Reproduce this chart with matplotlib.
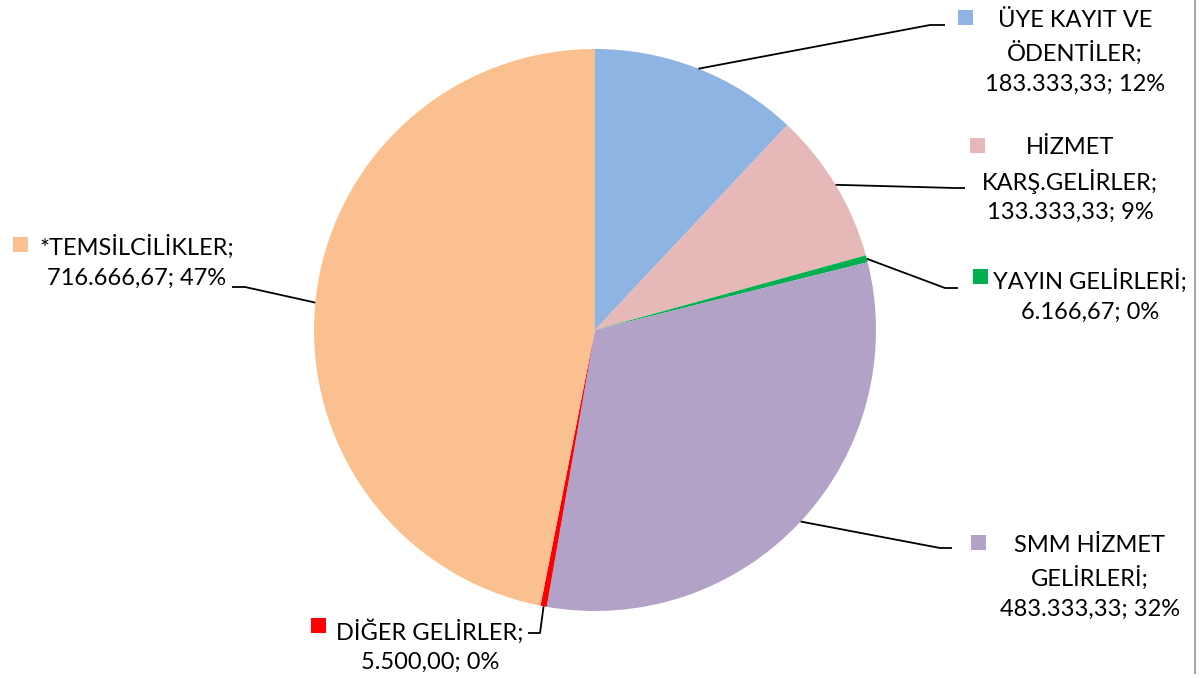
import numpy as np
import matplotlib
matplotlib.use('Agg')
import matplotlib.pyplot as plt

plt.rcParams['font.family'] = ['Lato', 'DejaVu Sans']

# Data
names = ['ÜYE KAYIT VE\nÖDENTİLER', 'HİZMET\nKARŞ.GELİRLER', 'YAYIN GELİRLERİ',
         'SMM HİZMET\nGELİRLERİ', 'DİĞER GELİRLER', '*TEMSİLCİLİKLER']
values = [183333.33, 133333.33, 6166.67, 483333.33, 5500.00, 716666.67]
colors = ['#8EB4E3', '#E6B9B8', '#00B050', '#B3A2C7', '#FF0000', '#FAC090']

W, H = 1202, 678
cx, cy, R = 595, 330, 281

# label layout in pixel coords (top-left origin): text centre, square, leader path
text_pos = [(1075, 52), (1070, 180), (1090, 296), (1090, 577), (430, 646), (137, 262)]
square_pos = [(965, 17), (977, 145), (980, 276), (978, 542), (318, 625), (20, 244)]
leader_end = [[(930, 25), (945, 25)], [(955, 188), (965, 188)], [(945, 288), (958, 288)],
              [(940, 548), (952, 548)], [(540, 633), (528, 633)], [(245, 287), (232, 287)]]


def fmt_tr(v):
    s = f'{v:,.2f}'
    return s.replace(',', 'X').replace('.', ',').replace('X', '.')


def py(y):
    return H - y


fig = plt.figure(figsize=(W / 100, H / 100), dpi=100)
ax = fig.add_axes([0, 0, 1, 1])

ax.pie(values, colors=colors, startangle=90, counterclock=False,
       center=(cx, py(cy)), radius=R, frame=True,
       wedgeprops=dict(linewidth=0))
ax.set_xlim(0, W)
ax.set_ylim(0, H)
ax.set_aspect('equal')
ax.axis('off')

total = sum(values)
frac = np.array(values) / total
cum = np.cumsum(frac) - frac / 2

for i in range(len(values)):
    ang = np.deg2rad(cum[i] * 360)
    x0 = cx + R * np.sin(ang)
    y0 = cy - R * np.cos(ang)
    xs = [x0] + [p[0] for p in leader_end[i]]
    ys = [py(y0)] + [py(p[1]) for p in leader_end[i]]
    ax.plot(xs, ys, color='black', lw=1.3, solid_capstyle='butt')

    pct = int(round(frac[i] * 100))
    label = f'{names[i]};\n{fmt_tr(values[i])}; {pct}%'
    tx, ty = text_pos[i]
    ax.text(tx, py(ty), label, ha='center', va='center', multialignment='center',
            fontsize=17, color='black', linespacing=1.5)
    sx, sy = square_pos[i]
    ax.add_patch(plt.Rectangle((sx - 7.5, py(sy) - 7.5), 15, 15, color=colors[i], lw=0))

ax.plot([1195, 1195], [py(0), py(673)], color='#A6A6A6', lw=1.5)

fig.savefig('out.png', dpi=100)
